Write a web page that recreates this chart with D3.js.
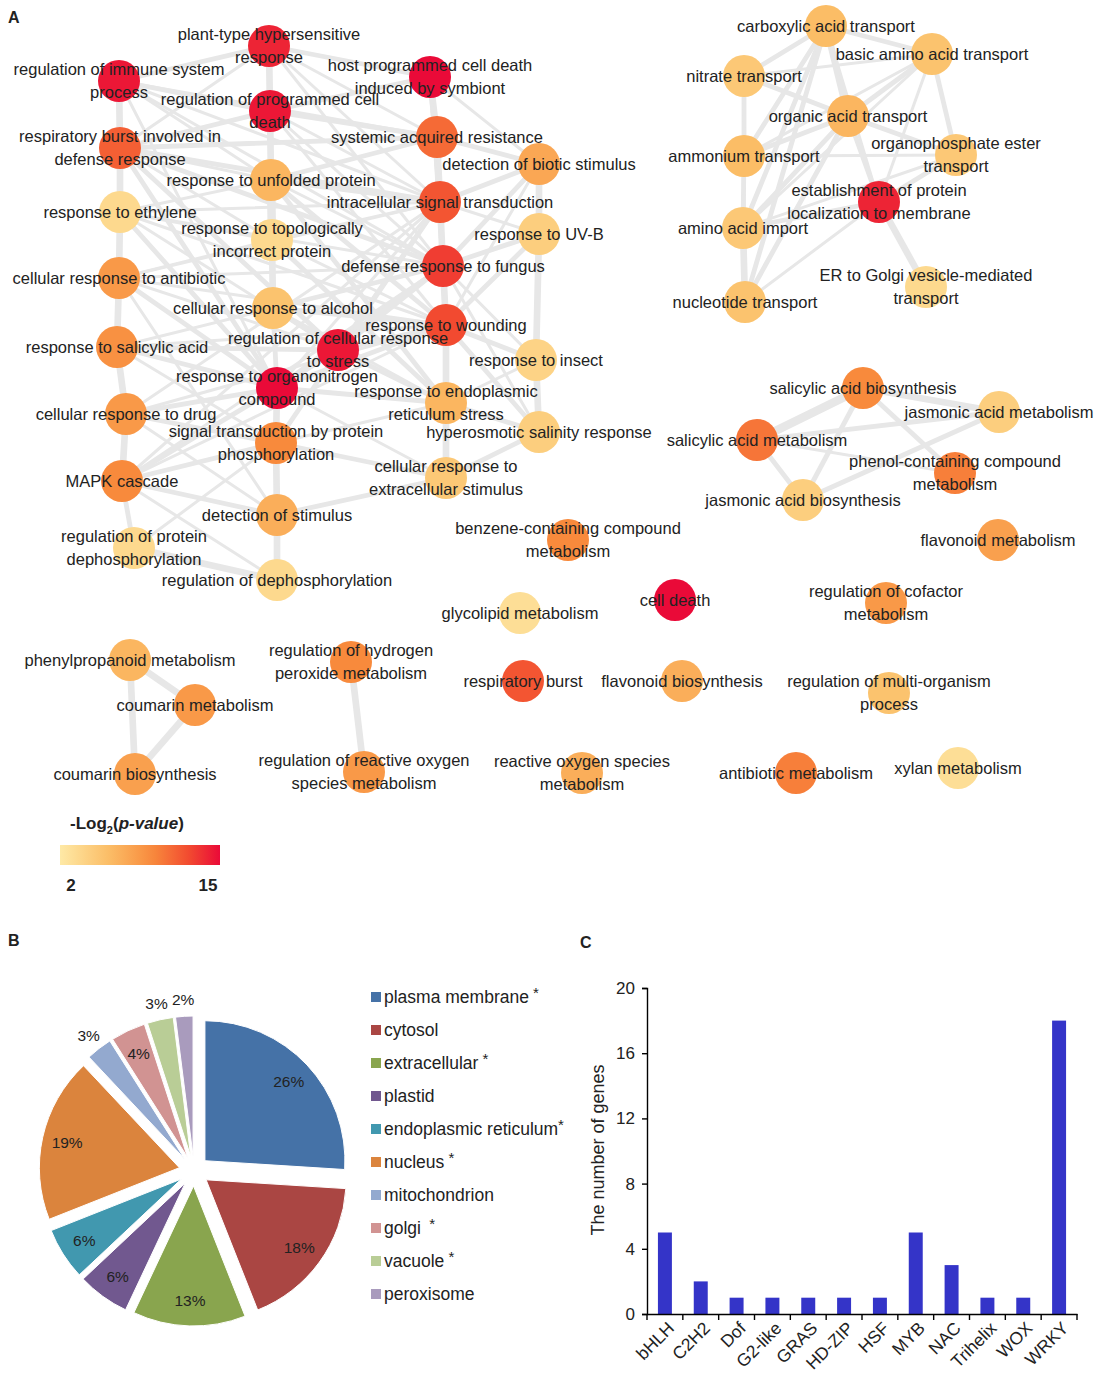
<!DOCTYPE html>
<html><head><meta charset="utf-8">
<script src="https://cdn.jsdelivr.net/npm/d3@7"></script>
<style>
body{margin:0;background:#fff}
text{font-family:"Liberation Sans",Arial,sans-serif;fill:#222}
</style>
</head><body>
<svg id="fig" width="1100" height="1380"></svg>
<script>
// ---------------- DATA ----------------
// Panel A: enrichment network (id, label, -log2 p-value)
const nodeIds = ["hr","imm","host","rpcd","rb","sar","dbs","unf","ist","eth","topo","uvb","fun","anti","alc","wnd","rcs","ins","sal","org","er","drug","stp","hyp","mapk","ext","ds","rpd","rd","benz","glyc","cd",
"carb","basic","nitr","orgac","amm","ope","estab","aai","erg","nuc",
"sab","jam","sam","phen","jab","flm","rcof",
"phenyl","coum","coub","h2o2","rros","resb","flb","multi","ros","antim","xyl"];
const nodeLabels = ["plant-type hypersensitive\nresponse","regulation of immune system\nprocess","host programmed cell death\ninduced by symbiont","regulation of programmed cell\ndeath","respiratory burst involved in\ndefense response","systemic acquired resistance","detection of biotic stimulus","response to unfolded protein","intracellular signal transduction","response to ethylene","response to topologically\nincorrect protein","response to UV-B","defense response to fungus","cellular response to antibiotic","cellular response to alcohol","response to wounding","regulation of cellular response\nto stress","response to insect","response to salicylic acid","response to organonitrogen\ncompound","response to endoplasmic\nreticulum stress","cellular response to drug","signal transduction by protein\nphosphorylation","hyperosmotic salinity response","MAPK cascade","cellular response to\nextracellular stimulus","detection of stimulus","regulation of protein\ndephosphorylation","regulation of dephosphorylation","benzene-containing compound\nmetabolism","glycolipid metabolism","cell death",
"carboxylic acid transport","basic amino acid transport","nitrate transport","organic acid transport","ammonium transport","organophosphate ester\ntransport","establishment of protein\nlocalization to membrane","amino acid import","ER to Golgi vesicle-mediated\ntransport","nucleotide transport",
"salicylic acid biosynthesis","jasmonic acid metabolism","salicylic acid metabolism","phenol-containing compound\nmetabolism","jasmonic acid biosynthesis","flavonoid metabolism","regulation of cofactor\nmetabolism",
"phenylpropanoid metabolism","coumarin metabolism","coumarin biosynthesis","regulation of hydrogen\nperoxide metabolism","regulation of reactive oxygen\nspecies metabolism","respiratory burst","flavonoid biosynthesis","regulation of multi-organism\nprocess","reactive oxygen species\nmetabolism","antibiotic metabolism","xylan metabolism"];
const nodeLogP = [14,14.5,15,14.5,11.5,11,7.5,6.5,12,3.5,3.5,4.5,13,8.5,5.5,12.5,14.5,4,9,15,6.5,8.5,9.5,4.5,9.5,5,7,3.5,3.5,9.5,3,15,
6,5.5,5,6.5,6,5,14,5,3.5,5.5,
9.5,4.5,10.5,10,4.5,8,8.5,
6.5,8.5,8,9.5,8.5,12,7,5.5,7,10,3];
// network layout coordinates (layout units)
const layoutX = [26.9,11.9,43.0,27.0,12.0,43.7,53.9,27.1,44.0,12.0,27.2,53.9,44.3,11.9,27.3,44.6,33.8,53.6,11.7,27.7,44.6,12.6,27.6,53.9,12.2,44.6,27.7,13.4,27.7,56.8,52.0,67.5,
82.6,93.2,74.4,84.8,74.4,95.6,87.9,74.3,92.6,74.5,
86.3,99.9,75.7,95.5,80.3,99.8,88.6,
13.0,19.5,13.5,35.1,36.4,52.3,68.2,88.9,58.2,79.6,95.8];
const layoutY = [4.6,8.1,7.7,11.1,14.8,13.7,16.4,18.0,20.2,21.2,24.0,23.4,26.6,27.8,30.8,32.5,35.0,36.0,34.7,38.8,40.3,41.4,44.3,43.2,48.1,47.8,51.5,54.8,58.0,54.0,61.3,60.0,
2.6,5.4,7.6,11.6,15.6,15.5,20.2,22.8,28.7,30.2,
38.8,41.2,44.0,47.3,50.0,54.0,60.3,
66.0,70.5,77.4,66.2,77.2,68.1,68.1,69.3,77.3,77.3,76.8];
// edges: source, target, overlap weight (1-4)
const edges = [
["imm","rb",3],["rb","eth",3],["eth","anti",3],["anti","sal",3],["sal","drug",3],["drug","mapk",3],["mapk","rpd",2],
["hr","rpcd",3],["rpcd","unf",3],["unf","topo",4],["topo","alc",3],["alc","org",2],["org","stp",3],["stp","ds",3],["ds","rd",3],
["host","sar",3],["sar","ist",3],["ist","fun",3],["fun","wnd",3],["wnd","er",3],["er","ext",3],
["dbs","uvb",3],["uvb","ins",3],["ins","hyp",3],["rpd","rd",3],
["imm","hr",2],["hr","host",2],["imm","rpcd",2],["rpcd","host",2],["hr","sar",1],["rpcd","sar",2],["imm","sar",1],
["rb","rpcd",2],["rb","sar",2],["rb","ist",2],["rb","hr",1],["host","ist",2],["host","dbs",1],["sar","dbs",2],["ist","dbs",2],
["fun","dbs",2],["wnd","dbs",1],["fun","uvb",2],["ist","uvb",1],["wnd","uvb",2],["ins","wnd",2],["ins","fun",1],["hyp","wnd",2],
["hyp","er",2],["hyp","ext",2],["hyp","fun",1],["ins","er",1],["unf","ist",2],["unf","sar",2],["unf","fun",1],["unf","er",2],
["topo","er",2],["topo","ist",1],["topo","wnd",1],["unf","wnd",2],["alc","wnd",2],["alc","fun",2],["alc","er",1],["alc","rcs",2],
["rcs","wnd",2],["rcs","fun",2],["rcs","ist",2],["rcs","er",2],["rcs","org",2],["rcs","sal",2],["rcs","eth",1],["rcs","anti",1],["rcs","rb",2],
["org","eth",2],["org","anti",2],["org","sal",2],["org","drug",2],["org","mapk",2],["org","er",2],["org","wnd",2],["org","fun",2],
["org","ist",1],["org","imm",1],["org","rb",2],["stp","mapk",2],["stp","drug",2],["stp","ist",2],["stp","er",1],["stp","ext",2],["stp","sal",1],
["ds","mapk",2],["ds","ext",2],["ds","drug",1],["ds","anti",1],["ext","org",1],["ext","wnd",1],["mapk","ist",1],["mapk","fun",1],
["sal","fun",1],["sal","wnd",1],["anti","wnd",1],["anti","fun",1],["eth","wnd",1],["eth","fun",1],["eth","topo",1],["anti","topo",1],
["rb","unf",1],["rb","topo",1],["rb","fun",2],["imm","fun",1],["hr","fun",1],["hr","ist",1],["rpcd","ist",1],["rpcd","fun",1],["rpcd","wnd",1],
["host","fun",1],["host","wnd",1],["sar","fun",1],["sar","wnd",1],["drug","ist",1],["drug","wnd",1],["eth","unf",1],["imm","unf",1],
["imm","ist",1],["eth","ist",1],["anti","ist",1],["mapk","wnd",1],["rpd","stp",1],["rd","stp",1],["rd","mapk",1],
["carb","nitr",2],["carb","basic",2],["carb","orgac",3],["carb","amm",2],["carb","aai",2],["carb","nuc",2],["carb","estab",1],
["basic","orgac",2],["basic","ope",2],["basic","nitr",1],["basic","amm",1],["basic","aai",1],["basic","estab",1],["nitr","amm",2],
["nitr","orgac",2],["nitr","aai",1],["amm","aai",2],["amm","orgac",2],["amm","nuc",1],["aai","nuc",3],["aai","orgac",2],["nuc","orgac",2],
["nuc","estab",1],["estab","erg",3],["estab","ope",2],["estab","orgac",2],["estab","aai",2],["orgac","ope",2],["ope","amm",1],["ope","aai",1],
["sab","sam",4],["sab","jam",3],["sab","phen",2],["sab","jab",2],["sam","jab",2],["sam","jam",2],["jab","jam",2],["sam","phen",1],
["phenyl","coum",3],["phenyl","coub",3],["coum","coub",3],["h2o2","rros",3]
];
const legendTicks = [2, 15];

// Panel B: subcellular localisation
const pieCats = ["plasma membrane","cytosol","extracellular","plastid","endoplasmic reticulum","nucleus","mitochondrion","golgi","vacuole","peroxisome"];
const pieVals = [26,18,13,6,6,19,3,4,3,2];
const pieStar = [" *","",  " *","","*"," *","","  *"," *",""];
const pieColors = ["#4572a7","#aa4643","#89a54e","#71588f","#4198af","#db843d","#93a9cf","#d19392","#b9cd96","#a99bbd"];

// Panel C: transcription factor families
const tfCats = ["bHLH","C2H2","Dof","G2-like","GRAS","HD-ZIP","HSF","MYB","NAC","Trihelix","WOX","WRKY"];
const tfVals = [5,2,1,1,1,1,1,5,3,1,1,18];
const tfTicks = [0,4,8,12,16,20];

// ---------------- DRAW ----------------
const svg = d3.select("#fig");
svg.append("rect").attr("width",1100).attr("height",1380).attr("fill","#fff");

// panel letters
[["A",8,23],["B",8,946],["C",580,948]].forEach(([t,x,y])=>
  svg.append("text").attr("x",x).attr("y",y).attr("font-size",16).attr("font-weight","bold").text(t));

// ---- Panel A ----
const xs = d3.scaleLinear().domain([0,110]).range([0,1100]);
const ys = d3.scaleLinear().domain([0,100]).range([0,1000]);
const color = d3.scaleLinear().domain([2,6,9.5,12.5,15])
  .range(["#fee9a6","#fbbd66","#f88a3c","#f24a30","#ea0a38"]).clamp(true);
const nodes = nodeIds.map((id,i)=>({id, label:nodeLabels[i], v:nodeLogP[i], x:xs(layoutX[i]), y:ys(layoutY[i])}));
const byId = new Map(nodes.map(n=>[n.id,n]));
const wScale = d3.scaleLinear().domain([1,4]).range([3,8.5]);

const gA = svg.append("g");
gA.append("g").selectAll("line").data(edges).join("line")
  .attr("x1",d=>byId.get(d[0]).x).attr("y1",d=>byId.get(d[0]).y)
  .attr("x2",d=>byId.get(d[1]).x).attr("y2",d=>byId.get(d[1]).y)
  .attr("stroke","#e7e7e7")
  .attr("stroke-width",d=>wScale(d[2])).attr("stroke-linecap","round");
gA.append("g").selectAll("circle").data(nodes).join("circle")
  .attr("cx",d=>d.x).attr("cy",d=>d.y).attr("r",21).attr("fill",d=>color(d.v));
const lab = gA.append("g").selectAll("text").data(nodes).join("text")
  .attr("x",d=>d.x).attr("y",d=>d.y).attr("text-anchor","middle")
  .attr("font-size",16.5).attr("fill","#222");
lab.each(function(d){
  const lines = d.label.split("\n");
  const t = d3.select(this);
  lines.forEach((l,k)=>{
    const off = lines.length===1 ? 0 : (k===0 ? -11.5 : 11.5);
    t.append("tspan").attr("x",d.x).attr("y",d.y+off).attr("dy","0.35em").text(l);
  });
});

// color legend
const defs = svg.append("defs");
const grad = defs.append("linearGradient").attr("id","lg");
d3.range(0,1.0001,0.1).forEach(f=>grad.append("stop").attr("offset",f)
  .attr("stop-color",color(legendTicks[0]+f*(legendTicks[1]-legendTicks[0]))));
const lgScale = d3.scaleLinear().domain(legendTicks).range([71,208]);
const lt = svg.append("text").attr("x",70).attr("y",829).attr("font-size",17).attr("font-weight","bold");
lt.append("tspan").text("-Log");
lt.append("tspan").attr("font-size",11).attr("dy",5).text("2");
lt.append("tspan").attr("dy",-5).text("(");
lt.append("tspan").attr("font-style","italic").text("p-value");
lt.append("tspan").text(")");
svg.append("rect").attr("x",60).attr("y",845).attr("width",160).attr("height",20).attr("fill","url(#lg)");
svg.selectAll(".lgt").data(legendTicks).join("text").attr("class","lgt")
  .attr("x",d=>lgScale(d)).attr("y",891).attr("text-anchor","middle")
  .attr("font-size",17).attr("font-weight","bold").text(d=>d);

// ---- Panel B ----
const pie = d3.pie().sort(null).value(d=>d)(pieVals);
const R = 140, EXP = 15;
const arc = d3.arc().innerRadius(0).outerRadius(R);
const gB = svg.append("g").attr("transform","translate(194,1171)");
const mid = d=>(d.startAngle+d.endAngle)/2;
gB.selectAll("path").data(pie).join("path")
  .attr("transform",d=>`translate(${EXP*Math.sin(mid(d))},${-EXP*Math.cos(mid(d))})`)
  .attr("d",arc).attr("fill",(d,i)=>pieColors[i]).attr("stroke","#fff").attr("stroke-width",1);
gB.selectAll("text").data(pie).join("text")
  .attr("x",d=>{const r = d.data>=4?130:172; return r*Math.sin(mid(d));})
  .attr("y",d=>{const r = d.data>=4?130:172; return -r*Math.cos(mid(d));})
  .attr("dy","0.35em").attr("text-anchor","middle").attr("font-size",15.5).text(d=>d.data+"%");

const gL = svg.append("g");
const ly = d3.scaleLinear().domain([0,1]).range([997,1030]);
pieCats.forEach((c,i)=>{
  gL.append("rect").attr("x",371).attr("y",ly(i)-5).attr("width",10).attr("height",10).attr("fill",pieColors[i]);
  const t = gL.append("text").attr("x",384).attr("y",ly(i)).attr("dy","0.35em").attr("font-size",17.5).text(c);
  if(pieStar[i]) t.append("tspan").attr("dy",-5).attr("font-size",15).text(pieStar[i].replace(/ /g,"\u00a0"));
});

// ---- Panel C ----
const xb = d3.scaleBand().domain(tfCats).range([647,1077]).padding(0);
const yb = d3.scaleLinear().domain([0,20]).range([1314,988]);
const gC = svg.append("g");
gC.selectAll("rect").data(tfVals).join("rect")
  .attr("x",(d,i)=>xb(tfCats[i])+xb.bandwidth()*0.305).attr("width",xb.bandwidth()*0.39)
  .attr("y",d=>yb(d)).attr("height",d=>yb(0)-yb(d)).attr("fill","#3434c8");
const yAxis = gC.append("g").attr("transform","translate(647,0)")
  .call(d3.axisLeft(yb).tickValues(tfTicks).tickSize(5).tickPadding(7).tickFormat(d3.format("d")));
yAxis.selectAll("text").attr("font-size",17).attr("font-family",'"Liberation Sans",Arial,sans-serif').attr("fill","#222");
yAxis.selectAll("line,path").attr("stroke","#000").attr("stroke-width",1.4);
const xAxis = gC.append("g").attr("transform","translate(0,1314)")
  .call(d3.axisBottom(xb).tickSize(0).tickFormat(""));
xAxis.select("path").attr("stroke","#000").attr("stroke-width",1.4);
const bounds = tfCats.map(c=>xb(c)).concat([xb.range()[1]]);
gC.selectAll(".xt").data(bounds).join("line").attr("class","xt")
  .attr("x1",d=>d).attr("x2",d=>d).attr("y1",1314).attr("y2",1320).attr("stroke","#000").attr("stroke-width",1.4);
gC.selectAll(".xl").data(tfCats).join("text").attr("class","xl")
  .attr("transform",d=>`translate(${xb(d)+xb.bandwidth()/2+6},1325) rotate(-45)`)
  .attr("text-anchor","end").attr("dy","0.35em").attr("font-size",17.5).text(d=>d);
gC.append("text").attr("transform","translate(604,1150) rotate(-90)").attr("text-anchor","middle")
  .attr("font-size",18).text("The number of genes");
</script>
</body></html>
